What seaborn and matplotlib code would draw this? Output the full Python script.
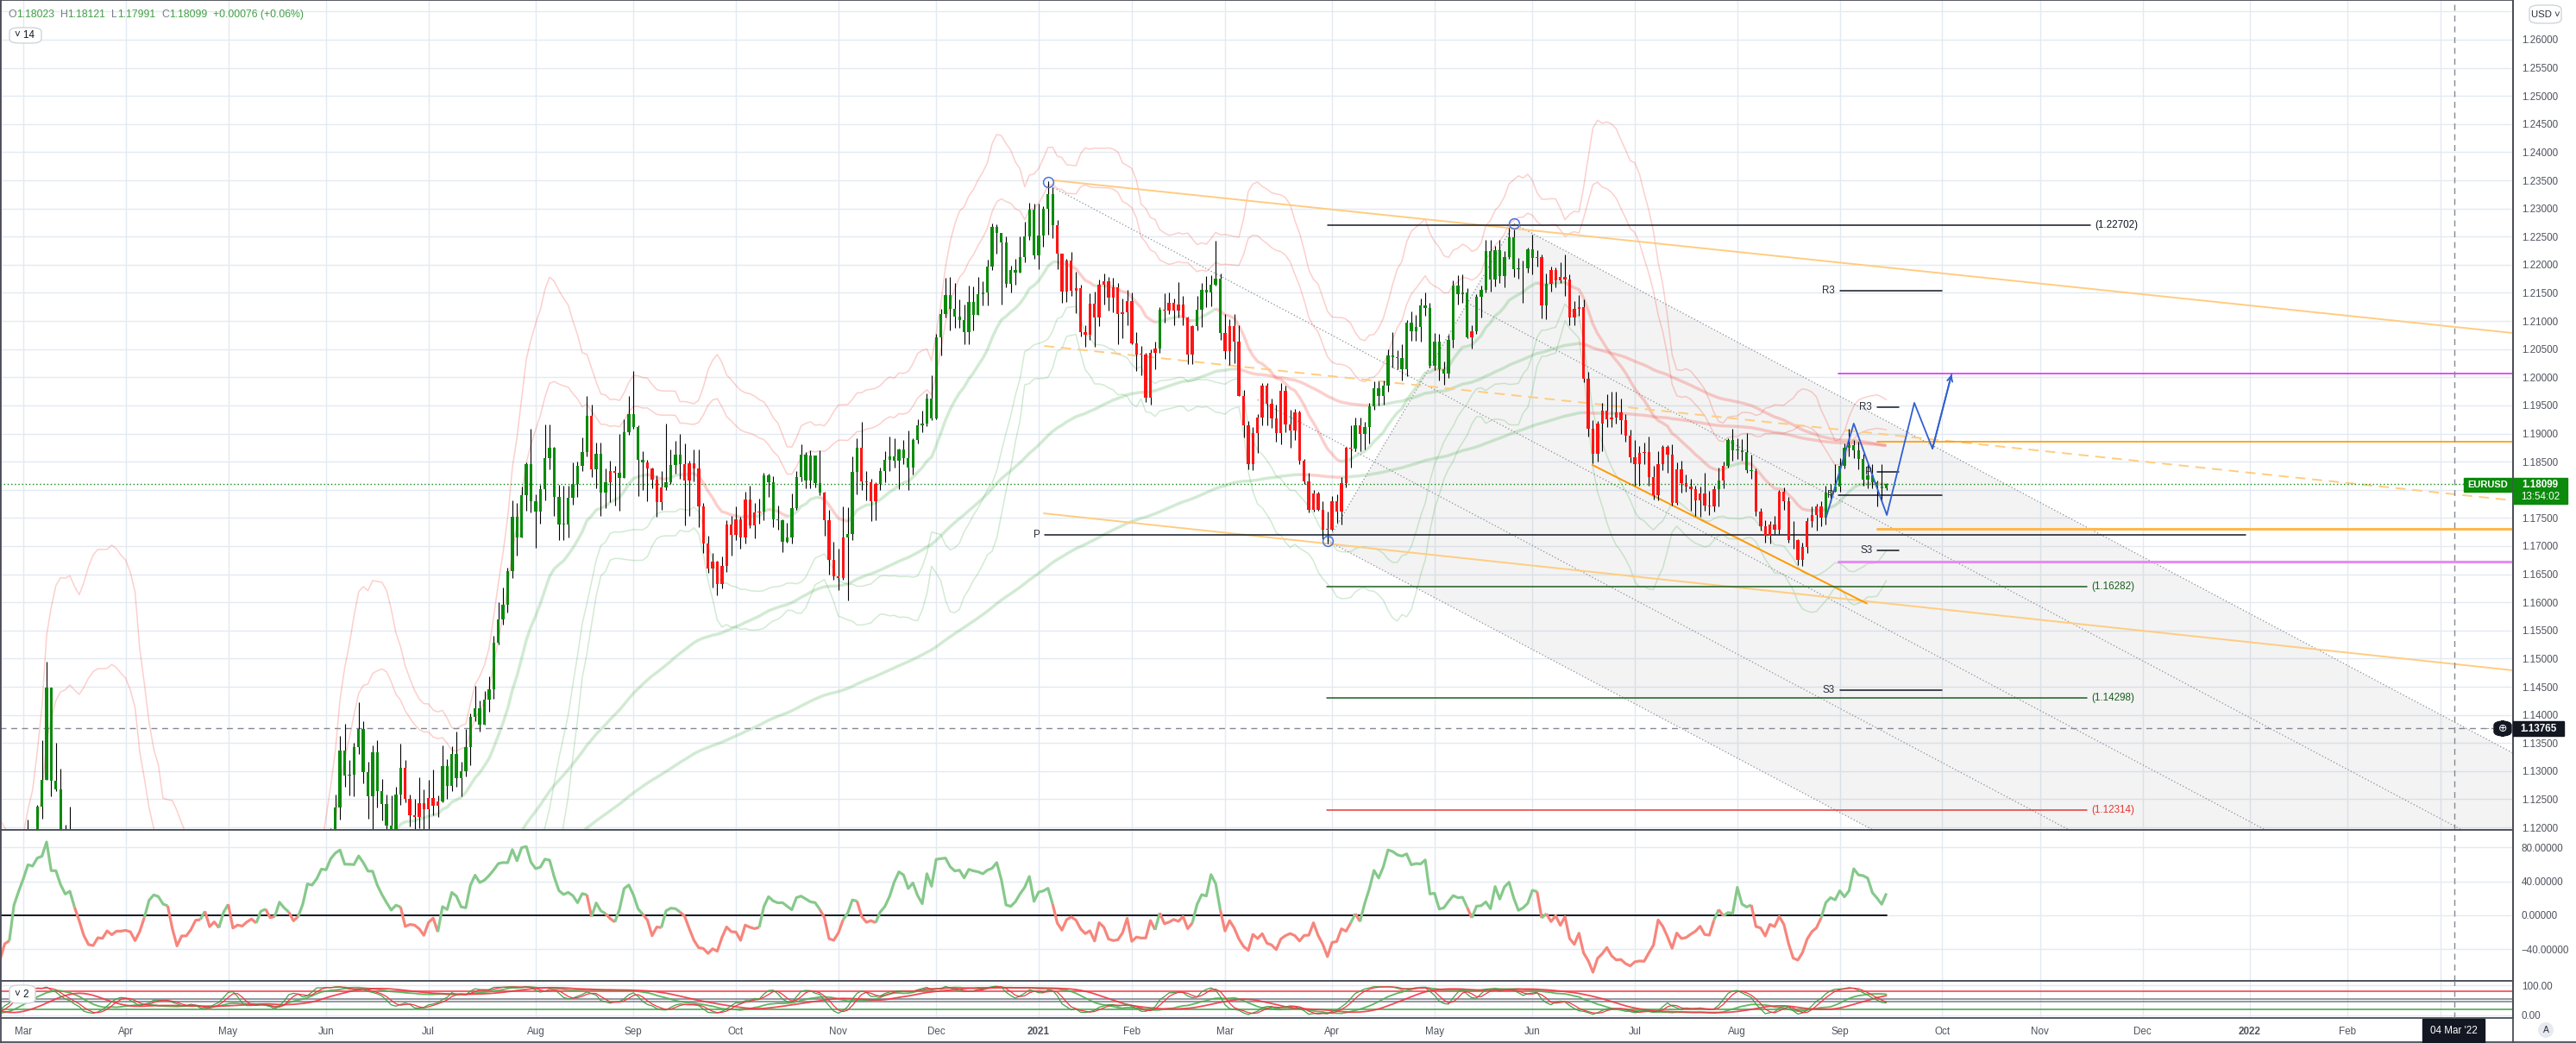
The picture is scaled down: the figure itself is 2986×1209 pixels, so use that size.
"""
EUR/USD daily (Mar 2020 - Sep 2021) in TradingView style:
candles coloured by the oscillator, bands / moving averages, pivot levels,
channel drawings, an oscillator pane and a double stochastic pane.
"""
import numpy as np
import pandas as pd
import matplotlib
matplotlib.use("Agg")
import matplotlib.pyplot as plt
import seaborn as sns
from matplotlib.patches import Polygon, FancyBboxPatch, Ellipse

W, H = 2986, 1209
SCALE_X = 2913          # px where the price scale starts
PANE_MAIN = (0, 962)    # px rows of the three panes
PANE_OSC = (962, 1137)
PANE_STO = (1137, 1180)

# ---------------------------------------------------------------- bars
START = "2020-01-27"
END_AXIS = "2022-04-29"
HOLIDAYS = ["2020-12-25", "2021-01-01"]
ZERO_DAY = "2020-03-02"
FIRST_OPEN = 1.1025

close = [
    1.1019, 1.1020, 1.1008, 1.1031, 1.1093,  # Jan 20
    1.1061, 1.1044, 1.0999, 1.0981, 1.0944, 1.0911, 1.0917, 1.0873, 1.0840, 1.0831,
    1.0836, 1.0790, 1.0803, 1.0788, 1.0847, 1.0852, 1.0881, 1.0881, 1.0993, 1.1026,  # Feb
    1.1137, 1.1174, 1.1136, 1.1237, 1.1285, 1.1448, 1.1283, 1.1268, 1.1186, 1.1106, 1.1180,
    1.1000, 1.0918, 1.0694, 1.0695, 1.0720, 1.0790, 1.0885, 1.1029, 1.1140, 1.1045, 1.1031,  # Mar
    1.0963, 1.0856, 1.0803, 1.0791, 1.0891, 1.0858, 1.0936, 1.0936, 1.0914, 1.0986, 1.0896,
    1.0860, 1.0875, 1.0863, 1.0857, 1.0823, 1.0775, 1.0819, 1.0825, 1.0822, 1.0872, 1.0955,  # Apr
    1.0982, 1.0907, 1.0838, 1.0795, 1.0833, 1.0840, 1.0806, 1.0850, 1.0816, 1.0805, 1.0818,
    1.0919, 1.0923, 1.0977, 1.0946, 1.0899, 1.0898, 1.0979, 1.1007, 1.1077, 1.1100,  # May
    1.1135, 1.1172, 1.1236, 1.1337, 1.1292, 1.1294, 1.1342, 1.1375, 1.1298, 1.1255, 1.1333,
    1.1264, 1.1242, 1.1203, 1.1177, 1.1258, 1.1306, 1.1250, 1.1222, 1.1219, 1.1243, 1.1233,  # Jun
    1.1252, 1.1238, 1.1246, 1.1309, 1.1273, 1.1330, 1.1287, 1.1300, 1.1343, 1.1397, 1.1411,
    1.1383, 1.1427, 1.1445, 1.1528, 1.1570, 1.1595, 1.1655, 1.1752, 1.1715, 1.1791, 1.1846,
    1.1779,  # Jul
    1.1761, 1.1801, 1.1856, 1.1875, 1.1787, 1.1739, 1.1738, 1.1786, 1.1810, 1.1842, 1.1867,
    1.1932, 1.1836, 1.1864, 1.1795, 1.1813, 1.1834, 1.1830, 1.1821, 1.1903, 1.1935,  # Aug
    1.1912, 1.1853, 1.1848, 1.1838, 1.1818, 1.1778, 1.1804, 1.1814, 1.1844, 1.1863, 1.1845,
    1.1816, 1.1847, 1.1838, 1.1770, 1.1705, 1.1660, 1.1672, 1.1632, 1.1665, 1.1738, 1.1720,  # Sep
    1.1748, 1.1716, 1.1782, 1.1737, 1.1760, 1.1761, 1.1826, 1.1813, 1.1747, 1.1746, 1.1707,
    1.1716, 1.1768, 1.1823, 1.1862, 1.1816, 1.1861, 1.1812, 1.1795, 1.1746, 1.1675, 1.1647,  # Oct
    1.1643, 1.1715, 1.1722, 1.1832, 1.1874, 1.1815, 1.1813, 1.1779, 1.1811, 1.1834, 1.1853,
    1.1860, 1.1851, 1.1872, 1.1857, 1.1840, 1.1889, 1.1915, 1.1917, 1.1962, 1.1927,  # Nov
    1.2071, 1.2113, 1.2146, 1.2121, 1.2108, 1.2102, 1.2080, 1.2134, 1.2111, 1.2148, 1.2151,
    1.2197, 1.2268, 1.2256, 1.2239, 1.2166, 1.2191, 1.2186, 1.2214, 1.2251, 1.2298, 1.2217,  # Dec
    1.2252, 1.2299, 1.2326, 1.2271, 1.2219, 1.2152, 1.2207, 1.2154, 1.2158, 1.2080,
    1.2076, 1.2131, 1.2106, 1.2164, 1.2170, 1.2141, 1.2160, 1.2112, 1.2115, 1.2136,  # Jan 21
    1.2061, 1.2040, 1.2040, 1.1963, 1.2044, 1.2051, 1.2120, 1.2119, 1.2133, 1.2119,
    1.2129, 1.2106, 1.2040, 1.2091, 1.2120, 1.2156, 1.2150, 1.2164, 1.2175, 1.2078,  # Feb
    1.2046, 1.2091, 1.2063, 1.1967, 1.1914, 1.1846, 1.1901, 1.1928, 1.1985, 1.1953, 1.1927,
    1.1901, 1.1976, 1.1916, 1.1905, 1.1937, 1.1851, 1.1815, 1.1764, 1.1793, 1.1765, 1.1729,
    1.1729,  # Mar
    1.1779, 1.1762, 1.1812, 1.1874, 1.1873, 1.1915, 1.1900, 1.1911, 1.1949, 1.1980, 1.1966,
    1.1985, 1.2039, 1.2035, 1.2034, 1.2014, 1.2097, 1.2081, 1.2090, 1.2128, 1.2123, 1.2020,  # Apr
    1.2063, 1.2014, 1.2006, 1.2066, 1.2163, 1.2148, 1.2150, 1.2071, 1.2081, 1.2143, 1.2156,
    1.2225, 1.2174, 1.2226, 1.2180, 1.2213, 1.2249, 1.2192, 1.2194, 1.2193, 1.2227,  # May
    1.2212, 1.2213, 1.2127, 1.2166, 1.2190, 1.2172, 1.2179, 1.2174, 1.2106, 1.2122, 1.2125,
    1.1997, 1.1909, 1.1864, 1.1918, 1.1941, 1.1925, 1.1929, 1.1937, 1.1924, 1.1896, 1.1858,  # Jun
    1.1846, 1.1865, 1.1867, 1.1823, 1.1791, 1.1845, 1.1876, 1.1862, 1.1776, 1.1837, 1.1812,
    1.1806, 1.1801, 1.1781, 1.1793, 1.1772, 1.1771, 1.1801, 1.1817, 1.1843, 1.1888, 1.1870,  # Jul
    1.1870, 1.1867, 1.1835, 1.1834, 1.1762, 1.1736, 1.1718, 1.1739, 1.1729, 1.1796, 1.1779,
    1.1711, 1.1710, 1.1675, 1.1698, 1.1745, 1.1755, 1.1771, 1.1751, 1.1795, 1.1797, 1.1806,  # Aug
    1.1843, 1.1874, 1.1880, 1.1870, 1.1855, 1.1818, 1.1825, 1.1813, 1.1806, 1.18023, 1.18099,  # Sep
]

high = [
    1.1036, 1.1031, 1.1023, 1.1040, 1.1096,
    1.1095, 1.1068, 1.1048, 1.1014, 1.0980, 1.0954, 1.0925, 1.0925, 1.0877, 1.0862,
    1.0849, 1.0840, 1.0805, 1.0815, 1.0862, 1.0870, 1.0892, 1.0891, 1.1001, 1.1054,
    1.1186, 1.1214, 1.1176, 1.1240, 1.1355, 1.1495, 1.1447, 1.1350, 1.1305, 1.1205, 1.1237,
    1.1196, 1.1039, 1.0932, 1.0833, 1.0828, 1.0888, 1.0895, 1.1037, 1.1148, 1.1146, 1.1064,
    1.1039, 1.0967, 1.0864, 1.0836, 1.0926, 1.0893, 1.0952, 1.0951, 1.0952, 1.0990, 1.0978,
    1.0924, 1.0880, 1.0895, 1.0887, 1.0882, 1.0852, 1.0830, 1.0859, 1.0889, 1.0888, 1.0973,
    1.1019, 1.0980, 1.0920, 1.0851, 1.0844, 1.0874, 1.0877, 1.0875, 1.0884, 1.0830, 1.0831,
    1.0927, 1.0976, 1.0996, 1.1009, 1.0956, 1.0917, 1.0996, 1.1030, 1.1092, 1.1147,
    1.1155, 1.1198, 1.1258, 1.1362, 1.1384, 1.1319, 1.1350, 1.1422, 1.1388, 1.1316, 1.1346,
    1.1355, 1.1286, 1.1258, 1.1257, 1.1272, 1.1349, 1.1319, 1.1258, 1.1250, 1.1289, 1.1267,
    1.1284, 1.1303, 1.1257, 1.1346, 1.1321, 1.1344, 1.1370, 1.1316, 1.1375, 1.1403, 1.1452,
    1.1426, 1.1442, 1.1469, 1.1540, 1.1601, 1.1626, 1.1662, 1.1781, 1.1776, 1.1806, 1.1849,
    1.1908,
    1.1792, 1.1809, 1.1916, 1.1916, 1.1876, 1.1809, 1.1808, 1.1808, 1.1848, 1.1850, 1.1893,
    1.1966, 1.1951, 1.1884, 1.1884, 1.1838, 1.1851, 1.1843, 1.1900, 1.1926, 1.1966,
    1.2011, 1.1915, 1.1868, 1.1853, 1.1839, 1.1826, 1.1833, 1.1917, 1.1871, 1.1887, 1.1900,
    1.1882, 1.1852, 1.1872, 1.1872, 1.1777, 1.1718, 1.1688, 1.1674, 1.1682, 1.1746, 1.1753,
    1.1771, 1.1752, 1.1797, 1.1807, 1.1776, 1.1784, 1.1831, 1.1829, 1.1824, 1.1772, 1.1748,
    1.1742, 1.1794, 1.1834, 1.1881, 1.1867, 1.1870, 1.1861, 1.1870, 1.1797, 1.1765, 1.1707,
    1.1695, 1.1770, 1.1769, 1.1860, 1.1891, 1.1920, 1.1833, 1.1820, 1.1814, 1.1840, 1.1868,
    1.1894, 1.1891, 1.1873, 1.1889, 1.1905, 1.1892, 1.1925, 1.1941, 1.1971, 1.2004,
    1.2077, 1.2122, 1.2177, 1.2178, 1.2167, 1.2139, 1.2129, 1.2163, 1.2161, 1.2178, 1.2170,
    1.2209, 1.2273, 1.2272, 1.2256, 1.2250, 1.2198, 1.2211, 1.2250, 1.2276, 1.2310, 1.2309,
    1.2309, 1.2304, 1.2349, 1.2338, 1.2280, 1.2212, 1.2210, 1.2223, 1.2187, 1.2164,
    1.2093, 1.2149, 1.2153, 1.2173, 1.2184, 1.2179, 1.2177, 1.2168, 1.2140, 1.2156,
    1.2150, 1.2080, 1.2055, 1.2044, 1.2050, 1.2063, 1.2124, 1.2149, 1.2150, 1.2140,
    1.2169, 1.2144, 1.2108, 1.2093, 1.2144, 1.2168, 1.2180, 1.2181, 1.2243, 1.2184,
    1.2112, 1.2103, 1.2113, 1.2093, 1.1978, 1.1923, 1.1912, 1.1935, 1.1990, 1.1990, 1.1962,
    1.1952, 1.1989, 1.1985, 1.1942, 1.1944, 1.1941, 1.1855, 1.1831, 1.1800, 1.1796, 1.1779,
    1.1762,
    1.1789, 1.1792, 1.1822, 1.1877, 1.1914, 1.1928, 1.1928, 1.1920, 1.1955, 1.1993, 1.1993,
    1.1995, 1.2049, 1.2080, 1.2048, 1.2058, 1.2102, 1.2117, 1.2111, 1.2140, 1.2150, 1.2132,
    1.2079, 1.2077, 1.2028, 1.2075, 1.2172, 1.2181, 1.2183, 1.2159, 1.2093, 1.2148, 1.2163,
    1.2245, 1.2245, 1.2234, 1.2244, 1.2225, 1.2266, 1.2263, 1.2212, 1.2207, 1.2231,
    1.2254, 1.2226, 1.2218, 1.2184, 1.2197, 1.2195, 1.2204, 1.2218, 1.2183, 1.2135, 1.2146,
    1.2138, 1.2010, 1.1924, 1.1922, 1.1954, 1.1970, 1.1975, 1.1974, 1.1962, 1.1935, 1.1907,
    1.1888, 1.1878, 1.1884, 1.1895, 1.1843, 1.1868, 1.1880, 1.1880, 1.1881, 1.1848, 1.1851,
    1.1827, 1.1820, 1.1808, 1.1806, 1.1830, 1.1798, 1.1807, 1.1840, 1.1850, 1.1892, 1.1909,
    1.1892, 1.1890, 1.1901, 1.1863, 1.1838, 1.1767, 1.1746, 1.1745, 1.1753, 1.1800, 1.1804,
    1.1787, 1.1744, 1.1712, 1.1706, 1.1750, 1.1770, 1.1775, 1.1780, 1.1808, 1.1810, 1.1846,
    1.1857, 1.1883, 1.1909, 1.1888, 1.1885, 1.1864, 1.1845, 1.1846, 1.1817, 1.1846, 1.18121,
]

low = [
    1.1008, 1.1002, 1.0992, 1.1006, 1.1019,
    1.1052, 1.1035, 1.0994, 1.0967, 1.0940, 1.0905, 1.0889, 1.0868, 1.0834, 1.0828,
    1.0823, 1.0787, 1.0778, 1.0778, 1.0786, 1.0813, 1.0835, 1.0851, 1.0879, 1.0958,
    1.1030, 1.1111, 1.1093, 1.1131, 1.1216, 1.1333, 1.1255, 1.1264, 1.1162, 1.1054, 1.1056,
    1.0956, 1.0802, 1.0654, 1.0636, 1.0637, 1.0728, 1.0766, 1.0864, 1.0950, 1.0993, 1.0927,
    1.0906, 1.0847, 1.0778, 1.0768, 1.0783, 1.0831, 1.0842, 1.0914, 1.0898, 1.0906, 1.0876,
    1.0814, 1.0812, 1.0841, 1.0813, 1.0818, 1.0757, 1.0727, 1.0812, 1.0811, 1.0817, 1.0848,
    1.0935, 1.0904, 1.0829, 1.0783, 1.0767, 1.0818, 1.0795, 1.0789, 1.0803, 1.0774, 1.0777,
    1.0807, 1.0880, 1.0910, 1.0930, 1.0870, 1.0871, 1.0883, 1.0934, 1.0988, 1.1068,
    1.1074, 1.1122, 1.1165, 1.1214, 1.1272, 1.1257, 1.1256, 1.1330, 1.1279, 1.1215, 1.1168,
    1.1236, 1.1213, 1.1189, 1.1168, 1.1167, 1.1240, 1.1244, 1.1202, 1.1188, 1.1199, 1.1191,
    1.1190, 1.1222, 1.1218, 1.1244, 1.1250, 1.1265, 1.1272, 1.1255, 1.1290, 1.1310, 1.1389,
    1.1371, 1.1382, 1.1405, 1.1428, 1.1525, 1.1561, 1.1582, 1.1643, 1.1683, 1.1716, 1.1763,
    1.1760,
    1.1697, 1.1740, 1.1781, 1.1837, 1.1753, 1.1711, 1.1711, 1.1716, 1.1773, 1.1788, 1.1833,
    1.1860, 1.1822, 1.1802, 1.1753, 1.1768, 1.1778, 1.1772, 1.1763, 1.1821, 1.1898,
    1.1909, 1.1789, 1.1800, 1.1780, 1.1803, 1.1752, 1.1765, 1.1799, 1.1810, 1.1828, 1.1819,
    1.1737, 1.1753, 1.1815, 1.1733, 1.1687, 1.1653, 1.1627, 1.1612, 1.1625, 1.1654, 1.1683,
    1.1711, 1.1696, 1.1705, 1.1732, 1.1714, 1.1740, 1.1746, 1.1788, 1.1733, 1.1729, 1.1689,
    1.1706, 1.1704, 1.1764, 1.1815, 1.1802, 1.1802, 1.1804, 1.1791, 1.1718, 1.1650, 1.1640,
    1.1622, 1.1640, 1.1603, 1.1711, 1.1792, 1.1800, 1.1781, 1.1745, 1.1746, 1.1799, 1.1813,
    1.1833, 1.1840, 1.1801, 1.1846, 1.1800, 1.1827, 1.1882, 1.1903, 1.1913, 1.1924,
    1.1925, 1.2039, 1.2107, 1.2083, 1.2088, 1.2088, 1.2059, 1.2059, 1.2083, 1.2111, 1.2127,
    1.2127, 1.2191, 1.2220, 1.2130, 1.2160, 1.2151, 1.2165, 1.2195, 1.2204, 1.2245, 1.2210,
    1.2192, 1.2232, 1.2254, 1.2247, 1.2192, 1.2132, 1.2134, 1.2145, 1.2114, 1.2072,
    1.2054, 1.2066, 1.2054, 1.2091, 1.2130, 1.2118, 1.2116, 1.2059, 1.2069, 1.2092,
    1.2059, 1.2011, 1.2003, 1.1956, 1.1952, 1.2014, 1.2043, 1.2097, 1.2112, 1.2092,
    1.2106, 1.2093, 1.2023, 1.2023, 1.2084, 1.2089, 1.2125, 1.2126, 1.2163, 1.2066,
    1.2032, 1.2022, 1.2025, 1.1966, 1.1893, 1.1836, 1.1835, 1.1866, 1.1914, 1.1915, 1.1910,
    1.1886, 1.1881, 1.1902, 1.1874, 1.1889, 1.1845, 1.1810, 1.1760, 1.1762, 1.1763, 1.1713,
    1.1704,
    1.1727, 1.1742, 1.1738, 1.1804, 1.1840, 1.1868, 1.1868, 1.1871, 1.1883, 1.1942, 1.1950,
    1.1951, 1.1974, 1.2017, 1.2014, 1.1994, 1.2002, 1.2065, 1.2065, 1.2063, 1.2110, 1.2018,
    1.2012, 1.1994, 1.1986, 1.1999, 1.2052, 1.2130, 1.2132, 1.2070, 1.2051, 1.2077, 1.2107,
    1.2150, 1.2152, 1.2162, 1.2168, 1.2160, 1.2210, 1.2178, 1.2175, 1.2133, 1.2186,
    1.2183, 1.2197, 1.2104, 1.2103, 1.2152, 1.2160, 1.2167, 1.2144, 1.2093, 1.2092, 1.2110,
    1.1991, 1.1894, 1.1847, 1.1850, 1.1869, 1.1911, 1.1911, 1.1917, 1.1900, 1.1885, 1.1848,
    1.1808, 1.1807, 1.1846, 1.1807, 1.1782, 1.1781, 1.1835, 1.1830, 1.1772, 1.1773, 1.1795,
    1.1796, 1.1763, 1.1754, 1.1752, 1.1763, 1.1755, 1.1762, 1.1770, 1.1802, 1.1840, 1.1852,
    1.1855, 1.1852, 1.1830, 1.1820, 1.1754, 1.1728, 1.1706, 1.1705, 1.1722, 1.1722, 1.1765,
    1.1706, 1.1695, 1.1667, 1.1664, 1.1687, 1.1734, 1.1727, 1.1735, 1.1738, 1.1778, 1.1797,
    1.1797, 1.1838, 1.1859, 1.1857, 1.1837, 1.1807, 1.1803, 1.1803, 1.1770, 1.1780, 1.17991,
]

# ------------------------------------------------- drawings on the chart
# x = bar offset from ZERO_DAY, y = price
level_text = ["(1.22702)", "(1.16282)", "(1.14298)", "(1.12314)"]
level_price = [1.22702, 1.16282, 1.14298, 1.12314]
level_color = ["#131722", "#1b5e20", "#1b5e20", "#e53935"]
level_x0 = [280.0, 279.9, 279.9, 279.9]
level_x1 = [443.8, 443.0, 443.0, 443.0]

pivot_text = ["P", "R3", "S3", "P", "R3", "P", "S3"]
pivot_price = [1.1720, 1.21534, 1.14439, 1.1790, 1.19468, 1.1832, 1.1692]
pivot_x0 = [219.3, 390.0, 390.0, 389.7, 398.0, 398.0, 398.0]
pivot_x1 = [477.1, 412.0, 412.0, 412.0, 402.7, 402.7, 402.7]

ray_price = [1.20062, 1.18862, 1.17311, 1.16728]
ray_x0 = [389.7, 398.0, 398.0, 389.7]
ray_color = ["#e040fb", "#ff9800", "#ffb74d", "#e58cf5"]
ray_width = [1.3, 1.2, 2.2, 2.2]

trend_x0 = [221.1, 219.1, 219.2, 336.9]
trend_y0 = [1.23501, 1.17582, 1.20557, 1.18441]
trend_x1 = [534.5, 534.5, 534.5, 395.8]
trend_y1 = [1.20787, 1.14792, 1.17812, 1.15980]
trend_color = ["#ffcc80", "#ffcc80", "#ffcc80", "#ff9800"]
trend_dash = ["-", "-", (0, (6, 4)), "-"]

swing_x = [220.0, 280.05, 320.06]
swing_y = [1.2347, 1.1709, 1.2273]

# parallel channel: anchored on the Mar-31 low and the May-25 high
chan_levels = [0.0, 0.25, 0.5, 0.75, 1.0]
chan_start = [None, None, 220.0, 265.0, None]   # None = starts on the A-B edge
CHAN_SLOPE = -0.0004387                        # price per bar

path_x = [387.1, 393.0, 400.1, 406.0, 409.9, 414.0]
path_y = [1.17521, 1.19177, 1.17552, 1.19545, 1.18732, 1.20051]

CROSS_PRICE = 1.13765
CROSS_DATE = "2022-03-04"
COUNTDOWN = "13:54:02"

# --------------------------------------------------------------- styling
GRID = "#e3eaf1"
TXT = "#50535e"
FRAME = "#4a4d57"
BULL = "#0b8a0b"
BEAR = "#ff1414"
OSC_UP = "#86c98b"
OSC_DN = "#f7857c"
BLUE = "#2f5fd0"

sns.set_theme(style="white")
plt.rcParams["font.family"] = ["Liberation Sans", "DejaVu Sans"]
plt.rcParams["axes.unicode_minus"] = True

# --------------------------------------------------------------- frame
cal = pd.bdate_range(START, END_AXIS)
cal = cal[~cal.isin(pd.to_datetime(HOLIDAYS))]
pos = np.arange(len(cal)) - cal.get_loc(pd.Timestamp(ZERO_DAY))
n = len(close)
assert len(high) == n and len(low) == n

df = pd.DataFrame({"x": pos[:n], "close": close, "high": high, "low": low})
df["open"] = [FIRST_OPEN] + close[:-1]
df["high"] = df[["high", "open", "close"]].max(axis=1)
df["low"] = df[["low", "open", "close"]].min(axis=1)
c = df["close"]

# bollinger 20 (2 and 3 sigma), emas, oscillator, stochastics
mid = c.rolling(20).mean()
sd = c.rolling(20).std(ddof=0)
delta = c.diff()
gain = delta.clip(lower=0).rolling(14).sum()
loss = (-delta.clip(upper=0)).rolling(14).sum()
df["cmo"] = 100 * (gain - loss) / (gain + loss)


def stoch(period, sk, sd_):
    lo = df["low"].rolling(period, min_periods=1).min()
    hi = df["high"].rolling(period, min_periods=1).max()
    k = (100 * (c - lo) / (hi - lo)).rolling(sk, min_periods=1).mean()
    return k, k.rolling(sd_, min_periods=1).mean()


k_fast, d_fast = stoch(14, 3, 3)
k_slow, d_slow = stoch(30, 10, 10)

XLIM = (-27 / 5.399, (SCALE_X - 27) / 5.399)
YLIM = (1.26 - 916 / 6522, 1.26 + 46 / 6522)


def rect(rows):
    y0, y1 = rows
    return [0, 1 - y1 / H, SCALE_X / W, (y1 - y0) / H]


fig = plt.figure(figsize=(W / 100, H / 100), dpi=100)
fig.patch.set_facecolor("white")
ax = fig.add_axes(rect(PANE_MAIN))
ax_o = fig.add_axes(rect(PANE_OSC), sharex=ax)
ax_s = fig.add_axes(rect(PANE_STO), sharex=ax)

# month ticks (the last one sits under the crosshair date tag)
s_pos = pd.Series(pos, index=cal)
firsts = s_pos.groupby([cal.year, cal.month]).first()
x_cross = s_pos[pd.Timestamp(CROSS_DATE)]
month_pos, month_lab = [], []
for (yr, mo), p in firsts.items():
    if XLIM[0] <= p <= XLIM[1]:
        month_pos.append(p)
        hidden = abs(p - x_cross) < 8
        month_lab.append("" if hidden else
                         str(yr) if mo == 1 else pd.Timestamp(yr, mo, 1).strftime("%b"))

for a in (ax, ax_o, ax_s):
    a.set_facecolor("white")
    a.set_xlim(*XLIM)
    a.set_xticks(month_pos)
    a.grid(True, color=GRID, lw=1)
    a.set_axisbelow(True)
    a.yaxis.tick_right()
    a.tick_params(axis="y", length=0, pad=7, labelsize=8.4, labelcolor=TXT)
    a.tick_params(axis="x", length=0, labelbottom=False)
    for sp in a.spines.values():
        sp.set_color(FRAME)
        sp.set_linewidth(1.3)

ax.set_ylim(*YLIM)
pticks = np.round(np.arange(1.12, 1.2651, 0.005), 3)
ax.set_yticks(pticks)
# the top label is hidden behind the currency button
ax.set_yticklabels([f"{v:.5f}" if v < 1.2625 else "" for v in pticks])

ax_o.set_ylim(-77, 100.3)
ax_o.set_yticks([80, 40, 0, -40])
ax_o.set_yticklabels(["80.00000", "40.00000", "0.00000", "\u221240.00000"])

ax_s.set_ylim(-8.6, 114.3)
ax_s.set_yticks([100, 0])
ax_s.set_yticklabels(["100.00", "0.00"])
ax_s.tick_params(axis="x", labelbottom=True, pad=7, labelsize=8.4, labelcolor=TXT)
ax_s.set_xticklabels(month_lab)
for t in ax_s.get_xticklabels():
    if t.get_text().isdigit():
        t.set_fontweight("bold")


def two_tone(a, xs, ys, up, c_up, c_dn, lw, alpha, z):
    xs, ys, up = np.asarray(xs), np.asarray(ys, float), np.asarray(up)
    k = int(np.argmax(~np.isnan(ys))) + 1
    while k < len(ys):
        m = k
        while m + 1 < len(ys) and up[m + 1] == up[k]:
            m += 1
        a.plot(xs[k - 1:m + 1], ys[k - 1:m + 1], color=c_up if up[k] else c_dn,
               lw=lw, alpha=alpha, zorder=z, solid_capstyle="butt")
        k = m + 1


def line(a, xs, ys, color, lw, alpha=1.0, z=2, ls="-"):
    sns.lineplot(x=np.asarray(xs), y=np.asarray(ys, float), ax=a, color=color,
                 linewidth=lw, alpha=alpha, zorder=z, linestyle=ls,
                 estimator=None, sort=False, legend=False)


x = df["x"].to_numpy()

# ---- bands and moving averages
for k_sig in (2, 3):
    line(ax, x, mid + k_sig * sd, "#f44336", 1.1, 0.25)
    line(ax, x, mid - k_sig * sd, "#4caf50", 1.1, 0.25)
for span in (20, 100, 200):
    ema = c.ewm(span=span, adjust=False).mean()
    rising = (ema.diff().fillna(0) >= 0).to_numpy()
    two_tone(ax, x, ema, rising, "#4caf50", "#f44336", 2.5, 0.25, 2)

# ---- channel
A = (swing_x[1], swing_y[1])
B = (swing_x[2], swing_y[2])
gap = (B[1] + CHAN_SLOPE * (A[0] - B[0])) - A[1]
ab_slope = (B[1] - A[1]) / (B[0] - A[0])


def chan_y(lvl, xx):
    return B[1] + CHAN_SLOPE * (np.asarray(xx) - B[0]) - lvl * gap


XR = XLIM[1]
poly = [A, B, (XR, chan_y(0, XR)), (XR, chan_y(1, XR))]
ax.add_patch(Polygon(poly, closed=True, fc="#9e9e9e", alpha=0.12, ec="none", zorder=1))
for lvl, st in zip(chan_levels, chan_start):
    if st is None:
        # where this level meets the A-B edge
        st = (chan_y(lvl, 0) - A[1] + ab_slope * A[0]) / (ab_slope - CHAN_SLOPE)
    ax.plot([st, XR], [chan_y(lvl, st), chan_y(lvl, XR)], color="#8a8d96",
            lw=0.9, ls=(0, (1, 2)), zorder=2.5)
ax.plot([A[0], B[0]], [A[1], B[1]], color="#8a8d96", lw=0.9, ls=(0, (1, 2)), zorder=2.5)

# ---- trend lines, rays, levels
for x0, y0, x1, y1, col, ds in zip(trend_x0, trend_y0, trend_x1, trend_y1,
                                   trend_color, trend_dash):
    ax.plot([x0, x1], [y0, y1], color=col, lw=1.4, ls=ds, zorder=3)
for p, x0, col, lw in zip(ray_price, ray_x0, ray_color, ray_width):
    ax.plot([x0, XR], [p, p], color=col, lw=lw, zorder=3)
for t, p, col, x0, x1 in zip(level_text, level_price, level_color, level_x0, level_x1):
    ax.plot([x0, x1], [p, p], color=col, lw=1.1, zorder=3)
    ax.annotate(t, (x1, p), xytext=(4, 0), textcoords="offset points", va="center",
                ha="left", fontsize=8.4, color=col, zorder=6)
for t, p, x0, x1 in zip(pivot_text, pivot_price, pivot_x0, pivot_x1):
    ax.plot([x0, x1], [p, p], color="#131722", lw=1.1, zorder=3)
    ax.annotate(t, (x0, p), xytext=(-4, 0), textcoords="offset points", va="center",
                ha="right", fontsize=8.4, color="#2a2e39", zorder=6)

# ---- candles (colour follows the oscillator sign)
o = df["open"].to_numpy()
cl = c.to_numpy()
bull = np.where(df["cmo"].isna(), cl >= o, df["cmo"] >= 0)
ax.vlines(x, df["low"], df["high"], color="black", lw=0.8, zorder=4)
body = np.maximum(np.abs(cl - o), 0.00012)
ax.bar(x, body, bottom=np.minimum(o, cl), width=0.62,
       color=np.where(bull, BULL, BEAR), lw=0, zorder=4.5)

# ---- projection path, swing circles, price lines
line(ax, path_x, path_y, BLUE, 1.3, 1.0, 5)
ax.annotate("", xy=(path_x[-1], path_y[-1]), xytext=(path_x[-2], path_y[-2]),
            arrowprops=dict(arrowstyle="->", color=BLUE, lw=1.3, shrinkA=0, shrinkB=0,
                            mutation_scale=11), zorder=5)
ax.plot(swing_x, swing_y, ls="none", marker="o", ms=8.5, mfc="none", mec="#4a72e0",
        mew=1.1, zorder=6)
ax.axhline(cl[-1], color="#0b8a0b", lw=1, ls=(0, (1, 2)), zorder=3)
ax.axhline(CROSS_PRICE, color="#868993", lw=1, ls=(0, (5, 4)), zorder=3)
for a in (ax, ax_o, ax_s):
    a.axvline(x_cross, color="#868993", lw=1, ls=(0, (5, 4)), zorder=3)

# ---- oscillator pane
ax_o.plot([x[0], x[-1]], [0, 0], color="#131722", lw=1.4, zorder=2)
two_tone(ax_o, x, df["cmo"], (df["cmo"] >= 0).to_numpy(), OSC_UP, OSC_DN, 2.3, 1.0, 3)

# ---- stochastic pane
for lvl, col in ((80, "#f23645"), (54, "#787b86"), (46, "#787b86"), (20, "#43a047")):
    ax_s.axhline(lvl, color=col, lw=1.1, zorder=1.5)
line(ax_s, x, k_slow, "#4caf50", 1.3, 0.9, 2)
line(ax_s, x, d_slow, "#f23645", 1.3, 0.9, 2)
line(ax_s, x, k_fast, "#43a047", 0.9, 1.0, 3)
line(ax_s, x, d_fast, "#f23645", 0.9, 1.0, 3)

# ------------------------------------------------------------ ui overlay
def fx(px):
    return px / W


def fy(py):
    return 1 - py / H


def box(x0, y0, x1, y1, fc, ec=None, rounded=False, lw=1.0):
    style = "round,pad=0,rounding_size=0.004" if rounded else "square,pad=0"
    fig.add_artist(FancyBboxPatch((fx(x0), fy(y1)), fx(x1) - fx(x0), fy(y0) - fy(y1),
                                  boxstyle=style, transform=fig.transFigure, fc=fc,
                                  ec=ec or fc, lw=lw, zorder=20))


def label(px, py, s, color, size=8.4, ha="left", weight="normal"):
    return fig.text(fx(px), fy(py), s, color=color, fontsize=size, ha=ha, va="center",
                    fontweight=weight, zorder=21)


# header with OHLC of the last bar
renderer = fig.canvas.get_renderer()
chg = cl[-1] - o[-1]
tokens = [("O", "#787b86"), (f"{o[-1]:.5f}", "#43a047"), (" ", None),
          ("H", "#787b86"), (f"{df['high'].iloc[-1]:.5f}", "#43a047"), (" ", None),
          ("L", "#787b86"), (f"{df['low'].iloc[-1]:.5f}", "#43a047"), (" ", None),
          ("C", "#787b86"), (f"{cl[-1]:.5f}", "#43a047"), (" ", None),
          (f"{chg:+.5f} ({chg / o[-1] * 100:+.2f}%)", "#43a047")]
hx = 9
for s, col in tokens:
    if col is None:
        hx += 7
        continue
    t = label(hx, 17, s, col, size=8.8)
    hx += t.get_window_extent(renderer).width

box(11, 32, 48, 50, "white", "#d1d4dc", rounded=True)
label(17, 41, "\u02c5 14", "#131722", size=8.4)
box(11, 1142, 41, 1163, "white", "#d1d4dc", rounded=True)
label(17, 1152.5, "\u02c5 2", "#131722", size=8.4)

# price scale tags
box(2932, 6, 2969, 27, "white", "#d1d4dc", rounded=True)
label(2950.5, 16.5, "USD \u02c5", "#2a2e39", size=8.2, ha="center")
box(2856, 554, 2911, 570, "#0b8a0b")
label(2883.5, 562, "EURUSD", "white", size=8.0, ha="center", weight="bold")
box(2913, 554, 2976, 584, "#0b8a0b")
label(2944.5, 562, f"{cl[-1]:.5f}", "white", size=8.4, ha="center", weight="bold")
label(2944.5, 576, COUNTDOWN, "white", size=8.4, ha="center")
box(2913, 836, 2972, 853, "#131722")
label(2942.5, 844.5, f"{CROSS_PRICE:.5f}", "white", size=8.4, ha="center", weight="bold")
box(2891, 836, 2911, 853, "#131722", rounded=True)
label(2901, 844.5, "\u2295", "white", size=9, ha="center")
label(2882, 844.5, "\u2013", "#868993", size=8, ha="center")

# time scale tag and corner button
box(2808, 1181, 2880, 1209, "#131722")
label(2844, 1195, pd.Timestamp(CROSS_DATE).strftime("%d %b '%y"), "white", size=8.4,
      ha="center")
fig.add_artist(Ellipse((fx(2951), fy(1194)), 18 / W, 18 / H, transform=fig.transFigure,
                       fc="#e6e9ef", ec="none", zorder=20))
label(2951, 1194, "A", "#2a2e39", size=7.5, ha="center")

# outer frame lines
fig.add_artist(plt.Line2D([fx(SCALE_X), fx(SCALE_X)], [0, 1], color=FRAME, lw=1.3,
                          transform=fig.transFigure, zorder=19))
fig.add_artist(plt.Line2D([0, 1], [fy(1208), fy(1208)], color=FRAME, lw=1.3,
                          transform=fig.transFigure, zorder=19))
fig.add_artist(plt.Line2D([fx(0.5), fx(0.5)], [0, 1], color=FRAME, lw=1.3,
                          transform=fig.transFigure, zorder=19))

fig.savefig("out.png", dpi=100, facecolor="white")
